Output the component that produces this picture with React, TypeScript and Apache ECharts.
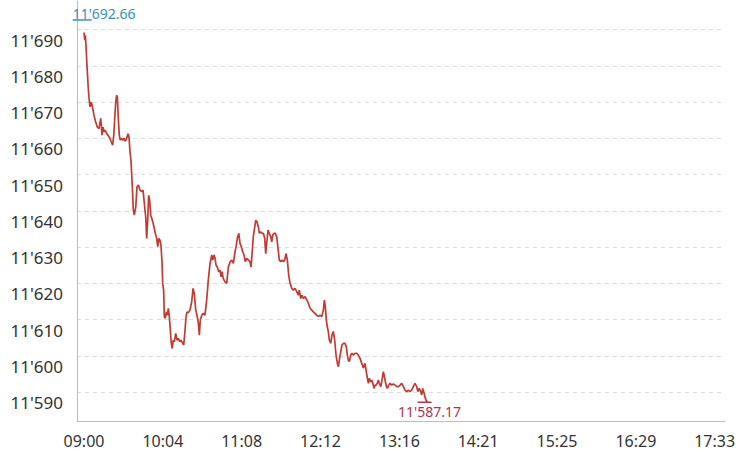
import React, { useEffect, useRef } from "react";
import * as echarts from "echarts";

// minutes after 09:00
const times: number[] = [
  0, 0.6, 1.1, 1.6, 2.4, 3.3, 4.1, 4.9, 5.5, 6.3, 7.1, 8.1, 9.5, 10.8, 12.2, 13.6, 14.1, 14.6, 15.5, 16.3,
  17.3, 18.5, 19.5, 21.2, 22.2, 23.3, 24.2, 25.0, 25.8, 26.6, 27.1, 27.9, 28.7, 29.5, 30.3, 31.5, 32.5, 33.6, 34.7, 35.8,
  36.6, 37.4, 38.2, 39.3, 40.1, 40.9, 42.1, 43.1, 44.2, 45.6, 46.9, 48.0, 49.1, 50.2, 51.0, 51.8, 52.6, 53.4, 54.3, 55.6,
  56.9, 58.0, 59.1, 60.0, 60.8, 61.8, 62.6, 63.5, 64.0, 64.8, 65.3, 66.1, 67.0, 67.8, 68.6, 69.4, 70.2, 71.0, 71.8, 72.6,
  73.5, 74.6, 75.7, 76.7, 77.9, 78.9, 80.3, 81.1, 82.2, 83.0, 83.8, 84.9, 86.2, 87.6, 88.7, 89.7, 90.9, 91.9, 93.0, 93.8,
  94.6, 95.8, 97.1, 98.4, 99.8, 101.1, 102.5, 103.9, 104.7, 105.8, 106.6, 107.4, 108.4, 109.6, 110.6, 111.5, 112.3, 113.3, 114.7, 116.1,
  117.4, 118.8, 120.2, 121.5, 122.6, 123.7, 124.7, 125.9, 126.9, 128.0, 129.1, 130.2, 131.2, 132.4, 133.7, 135.0, 135.9, 136.9, 137.7, 138.9,
  139.7, 140.7, 141.8, 142.6, 143.7, 144.8, 145.9, 147.0, 147.8, 148.6, 149.7, 150.7, 151.9, 152.7, 153.5, 154.6, 155.6, 156.8, 157.8, 158.9,
  160.0, 161.1, 162.1, 163.3, 164.3, 165.4, 166.5, 167.6, 169.0, 170.3, 171.6, 173.0, 174.3, 175.1, 176.3, 177.3, 178.4, 179.8, 181.2, 182.5,
  183.9, 185.2, 186.5, 187.9, 189.3, 190.6, 192.0, 193.4, 194.7, 195.5, 196.3, 197.1, 197.9, 198.7, 199.6, 200.7, 201.7, 202.8, 203.9, 205.0,
  206.1, 206.9, 207.7, 208.8, 209.9, 210.9, 212.3, 213.4, 214.2, 215.0, 215.8, 217.0, 218.0, 219.1, 220.5, 221.8, 223.1, 224.5, 225.9, 227.2,
  228.6, 229.4, 230.5, 231.3, 232.1, 233.2, 234.0, 234.9, 235.9, 236.7, 237.5, 238.6, 239.4, 240.2, 241.4, 242.4, 243.5, 244.6, 245.7, 246.7,
  247.9, 248.9, 250.3, 251.6, 253.0, 254.4, 255.7, 257.1, 258.4, 259.8, 261.1, 262.5, 263.8, 265.2, 266.5, 267.8, 269.2, 270.6, 271.6, 272.7,
  273.9, 274.7, 275.5, 276.6, 277.6, 278.4, 279.0,
];

const prices: number[] = [
  11689.2, 11687.1, 11688.4, 11685.7, 11680.2, 11674.7, 11671.0, 11668.7, 11670.0, 11669.6, 11668.2, 11666.4, 11664.5, 11663.1, 11662.7, 11665.5, 11663.6, 11660.9, 11663.1, 11661.8,
  11662.2, 11661.3, 11660.9, 11659.9, 11659.0, 11658.1, 11660.9, 11665.5, 11670.0, 11671.9, 11671.4, 11665.5, 11660.9, 11659.5, 11660.0, 11659.5, 11660.0, 11659.2, 11660.0, 11661.3,
  11660.4, 11656.3, 11654.0, 11646.6, 11640.2, 11638.8, 11641.1, 11646.6, 11647.1, 11645.7, 11645.3, 11645.7, 11642.0, 11638.3, 11632.4, 11637.4, 11644.3, 11642.9, 11638.8, 11637.4,
  11635.6, 11633.8, 11632.4, 11630.1, 11632.4, 11631.9, 11630.5, 11625.5, 11620.0, 11618.0, 11610.8, 11610.3, 11612.1, 11611.2, 11613.1, 11610.8, 11607.1, 11603.4, 11602.0, 11604.3,
  11603.9, 11606.2, 11604.3, 11604.8, 11603.9, 11604.3, 11603.4, 11603.0, 11607.1, 11610.8, 11612.1, 11611.9, 11612.6, 11614.9, 11618.6, 11617.2, 11612.6, 11611.2, 11609.0, 11605.7,
  11609.9, 11611.2, 11611.7, 11611.2, 11615.4, 11620.9, 11625.5, 11627.8, 11626.4, 11627.8, 11626.9, 11625.0, 11624.5, 11623.2, 11623.6, 11621.8, 11623.2, 11621.3, 11620.4, 11620.0,
  11624.5, 11625.9, 11626.4, 11625.5, 11628.2, 11630.1, 11632.4, 11633.8, 11631.0, 11630.1, 11628.7, 11627.8, 11626.0, 11626.9, 11626.4, 11626.0, 11624.5, 11629.1, 11632.8, 11635.6,
  11637.4, 11637.0, 11635.6, 11633.8, 11634.2, 11633.8, 11633.8, 11632.4, 11628.2, 11631.0, 11634.7, 11633.8, 11632.8, 11631.4, 11633.3, 11633.8, 11633.8, 11632.8, 11629.6, 11626.4,
  11626.0, 11626.4, 11626.0, 11626.4, 11628.2, 11626.4, 11622.3, 11620.0, 11618.6, 11618.1, 11618.6, 11617.7, 11616.7, 11618.1, 11615.8, 11616.7, 11615.8, 11616.3, 11615.4, 11614.5,
  11613.1, 11612.6, 11612.1, 11611.7, 11611.2, 11610.8, 11611.2, 11610.8, 11612.6, 11615.4, 11613.5, 11609.9, 11608.0, 11606.7, 11604.3, 11603.4, 11605.7, 11606.7, 11604.3, 11600.2,
  11597.9, 11597.0, 11598.8, 11601.1, 11603.0, 11603.4, 11603.4, 11602.5, 11600.2, 11598.8, 11598.4, 11600.2, 11600.7, 11600.2, 11600.7, 11600.7, 11600.2, 11599.3, 11597.9, 11596.6,
  11597.9, 11596.1, 11593.8, 11592.4, 11593.8, 11592.8, 11593.3, 11592.4, 11591.0, 11591.9, 11591.9, 11592.4, 11593.3, 11592.4, 11591.5, 11593.3, 11595.6, 11593.8, 11591.9, 11591.0,
  11591.9, 11592.4, 11591.9, 11592.2, 11591.9, 11591.5, 11591.5, 11591.9, 11592.4, 11591.5, 11590.5, 11590.1, 11590.5, 11590.1, 11590.5, 11591.5, 11592.4, 11591.5, 11590.1, 11591.0,
  11590.1, 11589.2, 11591.0, 11589.7, 11588.3, 11587.6, 11587.17,
];

const highValue = 11692.66;
const lowValue = 11587.17;

// x-axis tick positions (minutes after 09:00) and their labels
const tickMinutes: number[] = [0, 64.125, 128.25, 192.375, 256.5, 320.625, 384.75, 448.875, 513];
const tickLabels: string[] = ["09:00", "10:04", "11:08", "12:12", "13:16", "14:21", "15:25", "16:29", "17:33"];

const fmtThousands = (v: number, digits = 0) => {
  const s = v.toFixed(digits);
  const [i, d] = s.split(".");
  const ip = i.replace(/\B(?=(\d{3})+(?!\d))/g, "'");
  return d ? ip + "." + d : ip;
};

export default function App() {
  const ref = useRef<HTMLDivElement>(null);
  useEffect(() => {
    if (!ref.current) return;
    const chart = echarts.init(ref.current, undefined, { renderer: "svg" });
    const data = times.map((t, i) => [t, prices[i]]);
    const lastT = times[times.length - 1];
    chart.setOption({
      animation: false,
      backgroundColor: "#ffffff",
      textStyle: { fontFamily: "Noto Sans" },
      grid: { left: 77, right: 24, top: 1, bottom: 36 },
      xAxis: {
        type: "value",
        min: -5.7,
        max: 521.4,
        axisLine: { show: true, onZero: false, lineStyle: { color: "#bdbdbd", width: 1 } },
        axisTick: { show: false, customValues: tickMinutes },
        splitLine: { show: false },
        axisLabel: {
          customValues: tickMinutes,
          formatter: (v: number) => {
            const idx = tickMinutes.findIndex((m) => Math.abs(m - v) < 0.01);
            return idx >= 0 ? tickLabels[idx] : "";
          },
          color: "#333333",
          fontSize: 16,
          fontFamily: "Noto Sans",
          margin: 12,
          hideOverlap: false,
        },
      },
      yAxis: {
        type: "value",
        min: 11582.0,
        max: 11697.9,
        minInterval: 10,
        maxInterval: 10,
        axisLine: { show: true, onZero: false, lineStyle: { color: "#bdbdbd", width: 1 } },
        axisTick: { show: false },
        splitLine: {
          show: true,
          showMinLine: false,
          showMaxLine: false,
          lineStyle: { color: "#dddddd", type: [4, 4], width: 1 },
        },
        axisLabel: {
          showMinLabel: false,
          showMaxLabel: false,
          formatter: (v: number) => (Math.abs(v % 10) < 0.001 ? fmtThousands(v) : ""),
          color: "#333333",
          fontSize: 17,
          fontFamily: "Noto Sans",
          verticalAlign: "top",
          lineHeight: 21,
          margin: 14,
        },
      },
      series: [
        {
          type: "line",
          data,
          showSymbol: false,
          symbol: "none",
          lineStyle: { color: "#c23b33", width: 1.7 },
          markPoint: {
            silent: true,
            data: [
              {
                coord: [-1.5, highValue],
                symbol: "rect",
                symbolSize: [19, 1.5],
                itemStyle: { color: "#3a8fb7" },
                label: {
                  show: true,
                  formatter: fmtThousands(highValue, 2),
                  position: [0, -13],
                  align: "left",
                  color: "#3a8fb7",
                  fontSize: 14,
                  fontFamily: "Noto Sans",
                },
              },
              {
                coord: [lastT - 2, lowValue],
                symbol: "rect",
                symbolSize: [14, 1.5],
                itemStyle: { color: "#b3304f" },
                label: {
                  show: true,
                  formatter: fmtThousands(lowValue, 2),
                  position: "bottom",
                  distance: 1,
                  offset: [5, 0],
                  color: "#b3304f",
                  fontSize: 14,
                  fontFamily: "Noto Sans",
                },
              },
            ],
          },
        },
      ],
    });
    return () => chart.dispose();
  }, []);
  return (
    <div
      ref={ref}
      style={{ position: "fixed", left: 0, top: 0, width: 749, height: 457, background: "#fff" }}
    />
  );
}
